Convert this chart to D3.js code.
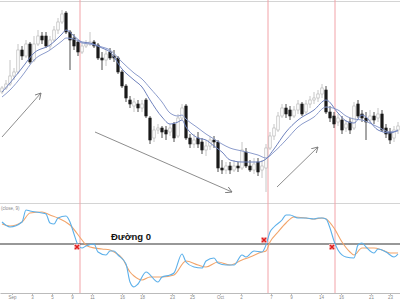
<!DOCTYPE html>
<html>
<head>
<meta charset="utf-8">
<script src="https://cdn.jsdelivr.net/npm/d3@7"></script>
<style>
  html, body { margin: 0; padding: 0; background: #fff; }
  svg { display: block; }
</style>
</head>
<body>
<div id="chart"></div>
<script>
// Nến (chỉ số giá, đơn vị tùy ý)
const opens = [
  108,112,116,124,128,150,144,156,140,156,
  164,164,154,160,170,178,187,168,162,158,
  148,154,156,158,155,142,140,148,144,142,
  128,114,100,94,96,92,100,82,62,70,
  72,70,68,76,64,82,94,62,56,62,
  58,50,54,60,58,32,30,34,30,34,
  32,48,34,30,38,30,32,52,64,70,
  84,92,90,84,90,96,88,96,100,102,
  106,110,88,84,78,80,72,78,72,96,
  86,82,80,84,82,86,72,68,62,70
];
const closes = [
  112,116,124,128,150,144,156,138,156,164,
  160,154,160,170,178,186,168,160,154,148,
  154,156,158,154,142,140,146,142,142,128,
  114,102,96,98,92,96,84,60,70,72,
  68,66,72,62,82,92,62,56,60,56,
  50,54,60,58,32,30,34,30,34,32,
  50,34,30,36,28,34,52,64,72,84,
  92,86,84,90,96,86,96,100,102,106,
  112,88,82,76,82,70,76,70,94,84,
  82,78,84,80,86,70,66,60,70,74
];
const highs = [
  114,120,140,132,156,154,160,158,164,170,
  168,168,164,174,182,190,189,170,166,160,
  158,160,168,160,157,148,150,152,150,144,
  130,116,104,102,100,100,102,84,74,76,
  74,74,76,78,86,96,96,66,66,68,
  62,60,64,64,60,40,38,38,40,38,
  58,52,40,42,42,40,56,68,76,88,
  96,96,94,94,100,98,100,104,108,110,
  116,114,94,88,86,84,80,82,98,100,
  90,88,90,88,92,90,76,72,74,78
];
const lows = [
  106,110,114,120,126,140,142,136,138,154,
  156,152,150,158,166,176,166,130,150,144,
  146,152,154,152,140,130,134,140,138,126,
  112,98,92,88,88,88,82,56,58,66,
  62,60,64,58,62,80,60,52,52,52,
  46,44,50,52,28,26,26,26,28,28,
  30,32,28,26,24,22,8,50,60,68,
  82,82,80,82,86,84,86,92,96,98,
  102,86,78,72,74,66,68,66,70,82,
  78,60,76,76,78,68,62,56,58,66
];

// Đường trung bình động
const maIdx  = [0,2,5,8,12,15,16,18,20,22,25,27,30,33,35,37,40,42,44,45,46,49,51,53,55,57,60,64,66,68,71,74,78,81,84,86,88,90,94,97,99];
const maFast = [108,117,132,147,155,166,170,164,158,157,152,148,131,120,113,100,83,76,78,80,73,62,60,54,48,40,38,38,41,51,68,80,90,100,87,79,77,85,70,67,70];
const maSlow = [103,110,124,140,150,159,162,161,157,156,153,150,138,127,121,112,98,87,84,85,81,72,66,61,56,52,49,45,42,48,60,73,83,93,90,84,81,80,73,68,69];

// MACD và đường tín hiệu
const blueIdx = [0,2,5,6,7,10,11,12,13,14,16,17,18,19,20,21,23,24,26,27,28,29,31,32,33,34,36,39,40,42,43,45,46,48,50,51,53,54,56,58,60,61,63,65,66,67,68,70,71,72,74,76,78,79,80,81,82,83,84,86,88,89,90,91,93,94,96,98,99];
const blueVal = [22,17,22,34,33,31,30,21,20,26,28,22,10,-1,-4,-2,0,-8,-11,-7,-7,-11,-20,-38,-43,-40,-28,-38,-33,-31,-29,-10,-18,-23,-24,-17,-14,-19,-21,-21,-11,-13,-7,-8,-1,12,17,24,29,29,26,26,25,26,26,25,16,3,-6,-13,-14,-1,1,-3,-9,-5,-8,-13,-10];
const orangeIdx = [0,2,5,7,10,12,14,17,20,21,22,25,27,28,30,32,33,35,37,40,43,46,49,51,54,57,60,62,65,66,67,69,71,73,76,78,80,81,83,85,87,88,90,93,95,97,99];
const orangeVal = [20,18,22,31,32,29,26,19,4,-1,-3,-5,-6,-8,-14,-28,-32,-36,-33,-33,-31,-17,-21,-23,-18,-21,-16,-13,-8,-7,2,12,21,27,26,25,26,25,16,2,-8,-11,-4,-4,-6,-9,-9];

// Điểm cắt, vạch dọc, mũi tên xu hướng
const crossIdx = [18.75, 65.5, 82.5];
const crossVal = [-3, 4, -3];
const eventIdx = [19.5, 66.5, 83.25];
const arrows = [
  [0, 63, 9.75, 107],
  [23.25, 68, 57.5, 8],
  [68.75, 13, 79, 53]
];

// Nhãn trục thời gian
const tickIdx = [2.5, 7.5, 12.5, 17.5, 22.5, 30, 35, 42.5, 47.5, 54.5, 59.75, 67.25, 72.25, 79.75, 84.75, 92.25, 97];
const tickLabels = ["Sep","3","5","9","11","16","18","23","25","Oct","2","7","9","14","16","21","23"];

const width = 400, height = 300;

const svg = d3.select("#chart").append("svg")
  .attr("width", width)
  .attr("height", height);

const x = d3.scaleLinear().domain([-0.5, 99.5]).range([0, width]);
const y = d3.scaleLinear().domain([0, 200]).range([200, 0]);
const yM = d3.scaleLinear().domain([-50, 40]).range([294, 204]);

// khung
svg.append("line").attr("x1", 0).attr("x2", width).attr("y1", 1.5).attr("y2", 1.5)
  .attr("stroke", "#d4d4d4");
svg.append("line").attr("x1", 0).attr("x2", width).attr("y1", 203.5).attr("y2", 203.5)
  .attr("stroke", "#d4d4d4");

// vạch dọc hồng
svg.append("g").selectAll("line").data(eventIdx).join("line")
  .attr("x1", d => x(d)).attr("x2", d => x(d))
  .attr("y1", 0).attr("y2", 293)
  .attr("stroke", "#f2a3a8").attr("stroke-width", 1);

// nến
const candles = opens.map((o, i) => ({ i, o, c: closes[i], h: highs[i], l: lows[i] }));
const cg = svg.append("g");
cg.selectAll("line").data(candles).join("line")
  .attr("x1", d => x(d.i)).attr("x2", d => x(d.i))
  .attr("y1", d => y(d.h)).attr("y2", d => y(d.l))
  .attr("stroke", d => d.c >= d.o ? "#b8b8b8" : "#222")
  .attr("stroke-width", 0.8);
cg.selectAll("rect").data(candles).join("rect")
  .attr("x", d => x(d.i) - 1.2)
  .attr("width", 2.4)
  .attr("y", d => y(Math.max(d.o, d.c)))
  .attr("height", d => Math.max(1, Math.abs(y(d.o) - y(d.c))))
  .attr("fill", d => d.c >= d.o ? "#fff" : "#1a1a1a")
  .attr("stroke", d => d.c >= d.o ? "#b0b0b0" : "#1a1a1a")
  .attr("stroke-width", 0.6);

// đường MA
const maLine = d3.line().x(d => x(d[0])).y(d => y(d[1])).curve(d3.curveMonotoneX);
svg.append("path").datum(maIdx.map((d, i) => [d, maSlow[i]]))
  .attr("d", maLine).attr("fill", "none").attr("stroke", "#8c9ccc").attr("stroke-width", 1);
svg.append("path").datum(maIdx.map((d, i) => [d, maFast[i]]))
  .attr("d", maLine).attr("fill", "none").attr("stroke", "#6f82bd").attr("stroke-width", 1);

// mũi tên
svg.append("defs").append("marker")
  .attr("id", "arr").attr("viewBox", "0 0 8 8")
  .attr("refX", 7).attr("refY", 4)
  .attr("markerWidth", 7).attr("markerHeight", 7)
  .attr("markerUnits", "userSpaceOnUse")
  .attr("orient", "auto")
  .append("path").attr("d", "M0,0 L7,4 L0,8")
  .attr("fill", "none").attr("stroke", "#777").attr("stroke-width", 1);
svg.append("g").selectAll("line").data(arrows).join("line")
  .attr("x1", d => x(d[0])).attr("y1", d => y(d[1]))
  .attr("x2", d => x(d[2])).attr("y2", d => y(d[3]))
  .attr("stroke", "#808080").attr("stroke-width", 0.9)
  .attr("marker-end", "url(#arr)");

// khung dưới: MACD
svg.append("text").attr("x", 1).attr("y", 210)
  .attr("font-family", "Liberation Sans, Arial, sans-serif").attr("font-size", 4.5)
  .attr("fill", "#888").text("(close, 9)");

svg.append("line").attr("x1", 0).attr("x2", width)
  .attr("y1", yM(0)).attr("y2", yM(0))
  .attr("stroke", "#333").attr("stroke-width", 1.2);

const mLine = d3.line().x(d => x(d[0])).y(d => yM(d[1])).curve(d3.curveMonotoneX);
svg.append("path").datum(orangeIdx.map((d, i) => [d, orangeVal[i]]))
  .attr("d", mLine).attr("fill", "none").attr("stroke", "#f2a46a").attr("stroke-width", 1.1);
svg.append("path").datum(blueIdx.map((d, i) => [d, blueVal[i]]))
  .attr("d", mLine).attr("fill", "none").attr("stroke", "#5cb0ea").attr("stroke-width", 1.1);

svg.append("text").attr("x", 111).attr("y", 240)
  .attr("font-family", "Liberation Sans, Arial, sans-serif")
  .attr("font-size", 9.5).attr("font-weight", "bold")
  .attr("fill", "#111").text("Đường 0");

// dấu X đỏ
const mk = svg.append("g").selectAll("g").data(crossIdx).join("g")
  .attr("transform", (d, i) => `translate(${x(d)},${yM(crossVal[i])})`);
mk.append("rect").attr("x", -3).attr("y", -3).attr("width", 6).attr("height", 6)
  .attr("fill", "#f7c4c4");
mk.append("path").attr("d", "M-2,-2L2,2M-2,2L2,-2")
  .attr("stroke", "#e01b1b").attr("stroke-width", 1.6);

// trục thời gian
const axis = svg.append("g").attr("transform", "translate(0,293)")
  .call(d3.axisBottom(x).tickValues(tickIdx).tickFormat((d, i) => tickLabels[i])
    .tickSize(2).tickSizeOuter(0));
axis.select(".domain").attr("stroke", "#bbb");
axis.selectAll(".tick line").attr("stroke", "#bbb");
axis.selectAll(".tick text").attr("y", 3).attr("font-size", 4.5)
  .attr("font-family", "Liberation Sans, Arial, sans-serif").attr("fill", "#888");
</script>
</body>
</html>
